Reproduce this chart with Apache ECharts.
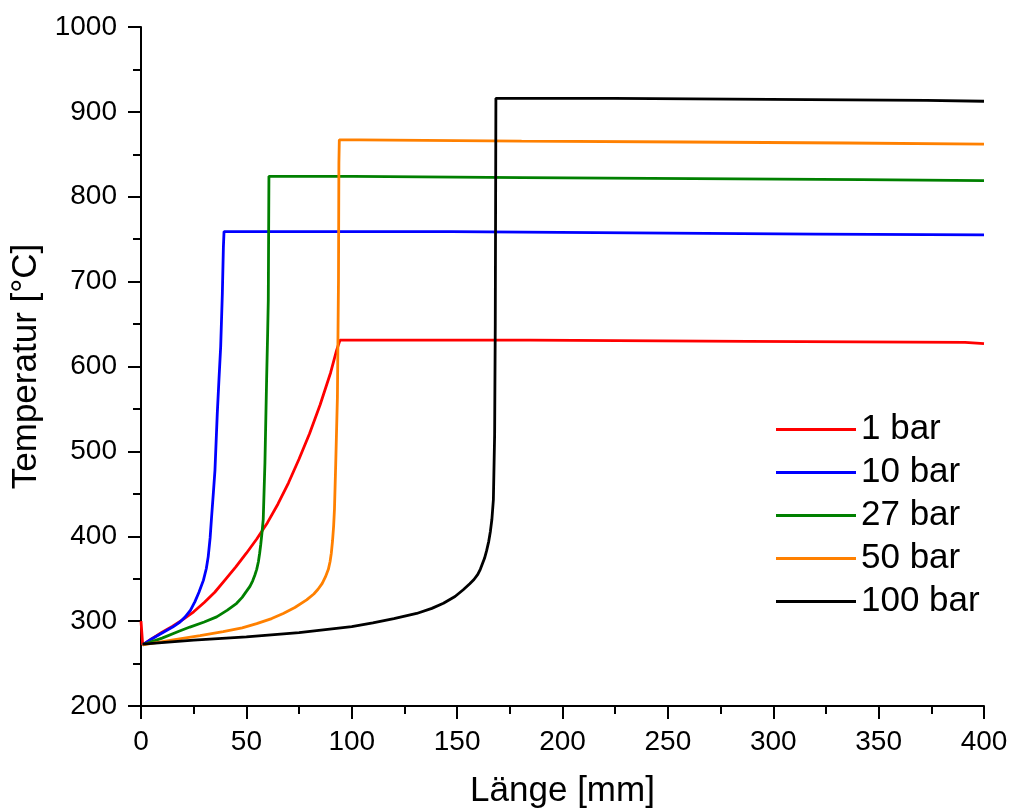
<!DOCTYPE html>
<html>
<head>
<meta charset="utf-8">
<script src="https://cdn.jsdelivr.net/npm/echarts@6/dist/echarts.min.js"></script>
<style>
  html, body { margin: 0; padding: 0; background: #fff; }
  #chart { width: 1011px; height: 812px; }
</style>
</head>
<body>
<div id="chart"></div>
<script>
// Temperature profiles along the reactor length, [Länge mm, Temperatur °C]
const seriesNames = ['1 bar', '10 bar', '27 bar', '50 bar', '100 bar'];

const bar1 = [[0,300],[0.8,272],[5,279],[10,287],[15,294],[20,302],[25,311],[30,322],[35,334],[40,349],[45,364],[50,380],[55,397],[60,416],[65,438],[70,463],[75,491],[80,521],[85,555],[90,593],[92.8,619],[94.4,631],[140,631],[184.6,631],[185,629.5],[288,629.5],[288.5,628.5],[391,628.5],[391.5,627],[400,627]];

const bar10 = [[0.8,272],[5,279],[10,286],[15,293],[18.5,299],[21,305],[23.5,313],[25.6,323],[27.5,334],[29.6,348],[31,362],[31.9,376],[32.8,398],[33.5,423],[34.3,450],[35.1,478],[36.2,545],[37,585],[37.8,623],[38.6,686],[39.1,741],[39.4,759],[147,759],[147.5,757.5],[233,757.5],[233.5,756],[320,756],[320.5,755],[400,755]];

const bar27 = [[0.8,272],[10,280],[18,288],[23.2,293],[30,299],[35.9,305],[41,313],[45.4,321],[48,328],[50,335],[51.7,341],[53,347.5],[54,354],[54.9,361],[55.7,370],[56.3,380],[56.8,390],[57.4,404],[58,420],[58.8,486],[59.6,584],[60.1,640],[60.4,678],[60.7,824],[101,824],[101.5,822.5],[181,822.5],[181.5,821.3],[262,821.3],[262.5,820.1],[342,820.1],[342.5,819],[400,819]];

const bar50 = [[0.8,272],[15.3,278],[28,283],[39,287.5],[48,292],[54.9,297],[62,303],[67.5,309],[73,316],[78.6,325],[82,332],[84,337.5],[86,344.5],[87.5,352],[88.9,361],[89.7,370],[90.3,380],[90.9,395],[91.4,412],[91.8,432],[92.4,486],[93.2,564],[93.7,700],[93.9,840],[94.1,867],[103.6,867],[104,865.5],[180.6,865.5],[181,864.5],[257.6,864.5],[258,863.3],[334.5,863.3],[335,862],[400,862]];

const bar100 = [[0.8,273],[25,277.5],[50,281.5],[75,286.5],[100,293.5],[110,298],[120,303],[130.8,309],[138,315],[143.5,321],[149,329],[152.9,337],[156,344],[158,349],[159.8,355],[161,361],[162,367.5],[163,374],[164,383],[165,394],[165.8,406],[166.5,420],[167.2,443],[167.8,520],[168.1,650],[168.4,916],[224.4,916],[224.8,914.8],[298.5,914.8],[299,913.6],[372.8,913.6],[373.2,912.5],[400,912.5]];

const seriesData = [bar1, bar10, bar27, bar50, bar100];
const colors = ['#ff0000', '#0000ff', '#008000', '#ff8000', '#000000'];

const font = '"Liberation Sans", Arial, sans-serif';

const chart = echarts.init(document.getElementById('chart'), null, { renderer: 'canvas' });

const axisCommon = {
  axisLine: { show: true, onZero: false, lineStyle: { color: '#000', width: 2 } },
  axisTick: { show: true, inside: false, length: 13, lineStyle: { color: '#000', width: 2 } },
  minorTick: { show: true, length: 8, splitNumber: 2, lineStyle: { color: '#000', width: 2 } },
  splitLine: { show: false },
  axisLabel: { color: '#000', fontSize: 28, fontFamily: font, formatter: v => String(v) },
  nameTextStyle: { color: '#000', fontSize: 35, fontFamily: font },
  nameLocation: 'middle'
};

chart.setOption({
  animation: false,
  backgroundColor: '#fff',
  grid: { left: 141, right: 27, top: 27, bottom: 106, containLabel: false, outerBoundsMode: 'none' },
  xAxis: Object.assign({}, axisCommon, {
    type: 'value', min: 0, max: 400, interval: 50,
    name: 'Länge [mm]', nameGap: 68,
    axisLabel: Object.assign({}, axisCommon.axisLabel, { margin: 22 })
  }),
  yAxis: Object.assign({}, axisCommon, {
    type: 'value', min: 200, max: 1000, interval: 100,
    name: 'Temperatur [°C]', nameGap: 95, nameRotate: 90,
    axisLabel: Object.assign({}, axisCommon.axisLabel, { margin: 24 })
  }),
  legend: {
    orient: 'vertical',
    left: 771, top: 407,
    itemWidth: 80, itemHeight: 3, itemGap: 8,
    icon: 'rect',
    selectedMode: false,
    textStyle: { color: '#000', fontSize: 35, fontFamily: font, lineHeight: 35 },
    data: seriesNames
  },
  series: seriesData.map((d, i) => ({
    name: seriesNames[i],
    type: 'line',
    data: d,
    showSymbol: false,
    symbol: 'none',
    smooth: false,
    lineStyle: { color: colors[i], width: 2.8 },
    itemStyle: { color: colors[i] },
    z: 2 + i
  }))
});
</script>
</body>
</html>
